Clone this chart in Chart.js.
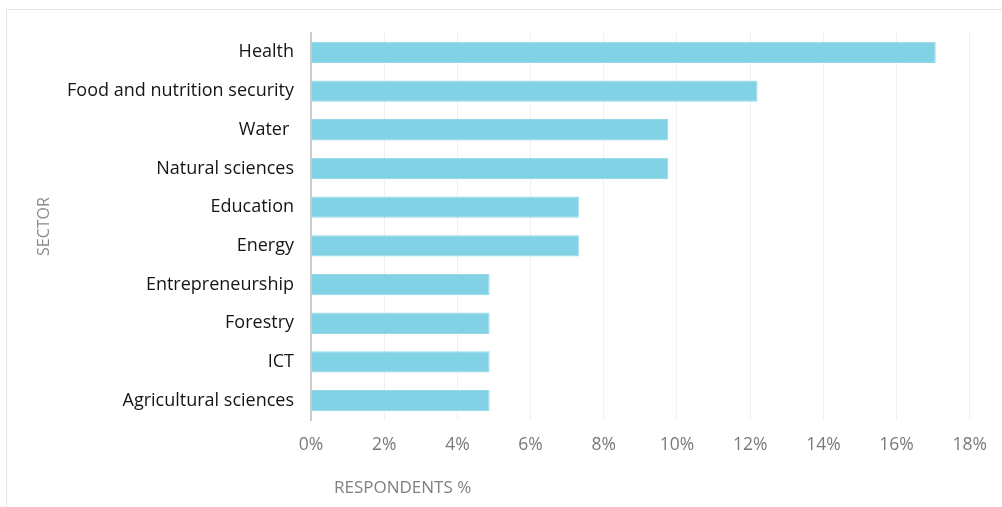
<!DOCTYPE html>
<html>
<head>
<meta charset="utf-8">
<script src="https://cdn.jsdelivr.net/npm/chart.js@4"></script>
<style>
	html, body { margin: 0; padding: 0; background: #fff; overflow: hidden; }
	#frame { position: absolute; left: 6px; top: 9px; width: 1100px; height: 600px; border: 1px solid #e6e6e6; }
	#wrap { position: absolute; left: 0; top: 0; width: 1002px; height: 507px; }
</style>
</head>
<body>
<div id="frame"></div>
<div id="wrap"><canvas id="mycanvas"></canvas></div>
<script>
var sectors = ['Health', 'Food and nutrition security', 'Water ', 'Natural sciences', 'Education',
	'Energy', 'Entrepreneurship', 'Forestry', 'ICT', 'Agricultural sciences'];
var respondents = [17.07, 12.2, 9.76, 9.76, 7.32, 7.32, 4.88, 4.88, 4.88, 4.88];
var xMax = 18;
var xStep = 2;
var xTitle = 'RESPONDENTS %';
var yTitle = 'SECTOR';

var fontFamily = '"Open Sans", "Noto Sans", sans-serif';

// x axis title sits a bit right of the axis start, so draw it ourselves
var xTitlePlugin = {
	id: 'xTitlePlugin',
	afterDraw: function(chart) {
		var ctx = chart.ctx;
		ctx.save();
		ctx.font = '17px ' + fontFamily;
		ctx.fillStyle = '#808080';
		ctx.textAlign = 'left';
		ctx.textBaseline = 'middle';
		ctx.fillText(xTitle, chart.chartArea.left + 23, 488);
		ctx.restore();
	}
};

var ctx = document.getElementById('mycanvas');
var barGraph = new Chart(ctx, {
	type: 'bar',
	data: {
		labels: sectors,
		datasets: [{
			label: 'Respondents %',
			backgroundColor: '#80d2e4',
			borderColor: '#94d9e8',
			borderWidth: 1,
			categoryPercentage: 1,
			barPercentage: 0.55,
			data: respondents
		}]
	},
	options: {
		indexAxis: 'y',
		responsive: true,
		maintainAspectRatio: false,
		animation: false,
		layout: { padding: { top: 33, right: 31, bottom: 0, left: 0 } },
		plugins: {
			legend: { display: false },
			tooltip: { enabled: false }
		},
		scales: {
			x: {
				min: 0,
				max: xMax,
				grid: { color: '#efefef', lineWidth: 1, drawTicks: false },
				border: { display: false },
				ticks: {
					stepSize: xStep,
					padding: 15,
					color: '#7a7a7a',
					font: { family: fontFamily, size: 17.5 },
					callback: function(v) { return v + '%'; }
				},
				afterFit: function(scale) { scale.height = 87; }
			},
			y: {
				grid: { display: false, drawTicks: false },
				border: { display: true, color: '#cccccc', width: 2 },
				ticks: {
					padding: 17,
					color: '#151515',
					font: { family: fontFamily, size: 18 }
				},
				title: {
					display: true,
					text: yTitle,
					color: '#8a8a8a',
					font: { family: fontFamily, size: 16 },
					padding: { top: 35, bottom: 0 }
				},
				afterFit: function(scale) { scale.width = 311; }
			}
		}
	},
	plugins: [xTitlePlugin]
});
</script>
</body>
</html>
